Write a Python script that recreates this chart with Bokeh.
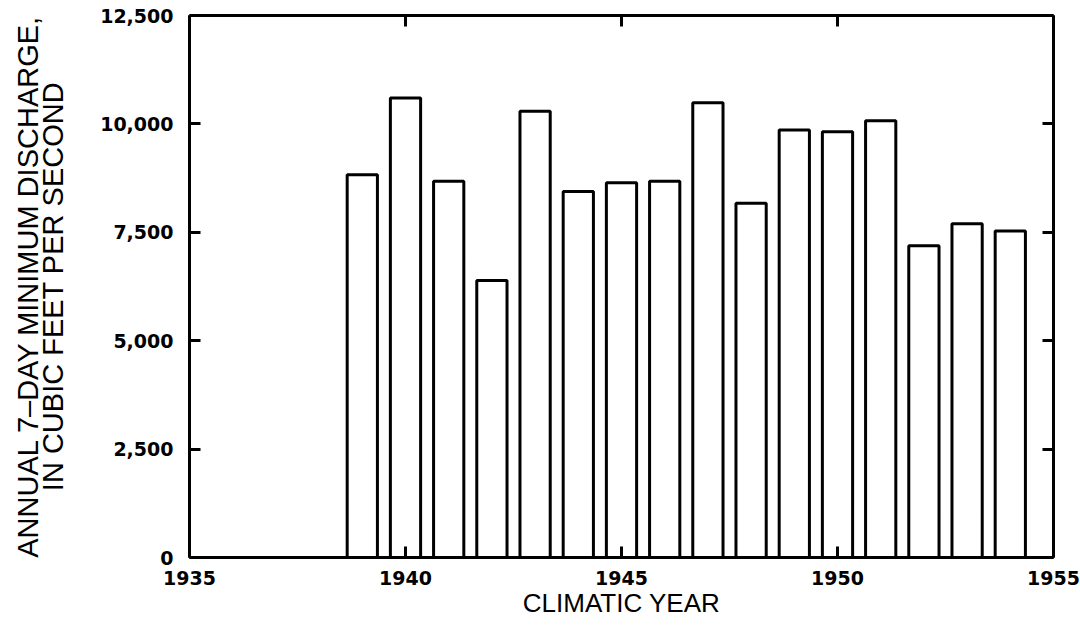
from bokeh.plotting import figure
from bokeh.models import LinearAxis, FixedTicker, NumeralTickFormatter, Range1d
from bokeh.embed import file_html
from bokeh.resources import INLINE

# Annual 7-day minimum discharge by climatic year
years = [1939, 1940, 1941, 1942, 1943, 1944, 1945, 1946,
         1947, 1948, 1949, 1950, 1951, 1952, 1953, 1954]
discharge = [8830, 10600, 8680, 6390, 10290, 8440, 8640, 8680,
             10490, 8170, 9860, 9820, 10070, 7190, 7700, 7530]

x_ticks = [1935, 1940, 1945, 1950, 1955]
y_ticks = [0, 2500, 5000, 7500, 10000, 12500]

p = figure(width=1080, height=627, output_backend="svg", toolbar_location=None,
           x_range=Range1d(1935, 1955), y_range=Range1d(0, 12500),
           min_border_left=189, min_border_right=27,
           min_border_top=15, min_border_bottom=70,
           x_axis_label="CLIMATIC YEAR",
           y_axis_label="ANNUAL 7\u2013DAY MINIMUM DISCHARGE,\nIN CUBIC FEET PER SECOND")

p.vbar(x=years, top=discharge, bottom=0, width=0.7,
       fill_color="white", line_color="black", line_width=3)

p.grid.visible = False
p.outline_line_color = None
p.background_fill_color = "white"
p.border_fill_color = "white"

tick_font = "DejaVu Sans"
title_font = "Liberation Sans"


def style_axis(ax, ticks, labels=True):
    ax.ticker = FixedTicker(ticks=ticks)
    ax.axis_line_color = "black"
    ax.axis_line_width = 3
    ax.major_tick_line_color = "black"
    ax.major_tick_line_width = 3
    ax.major_tick_in = 11
    ax.major_tick_out = 0
    ax.minor_tick_line_color = None
    if labels:
        ax.major_label_text_font = tick_font
        ax.major_label_text_font_style = "bold"
        ax.major_label_text_font_size = "19px"
        ax.major_label_text_color = "black"
        ax.axis_label_text_font = title_font
        ax.axis_label_text_font_style = "normal"
        ax.axis_label_text_color = "black"
    else:
        ax.major_label_text_color = None
        ax.major_label_text_font_size = "0px"
        ax.major_label_standoff = 0


xa = p.xaxis[0]
style_axis(xa, x_ticks)
xa.major_label_standoff = 13
xa.axis_label_text_font_size = "26px"
xa.axis_label_standoff = 0

ya = p.yaxis[0]
style_axis(ya, y_ticks)
ya.formatter = NumeralTickFormatter(format="0,0")
ya.major_label_standoff = 16
ya.axis_label_text_font_size = "29px"
ya.axis_label_text_line_height = 0.8
ya.axis_label_standoff = 28

top_ax = LinearAxis()
style_axis(top_ax, x_ticks, labels=False)
p.add_layout(top_ax, "above")

right_ax = LinearAxis()
style_axis(right_ax, y_ticks, labels=False)
p.add_layout(right_ax, "right")

open("out.html", "w").write(file_html(p, INLINE))
